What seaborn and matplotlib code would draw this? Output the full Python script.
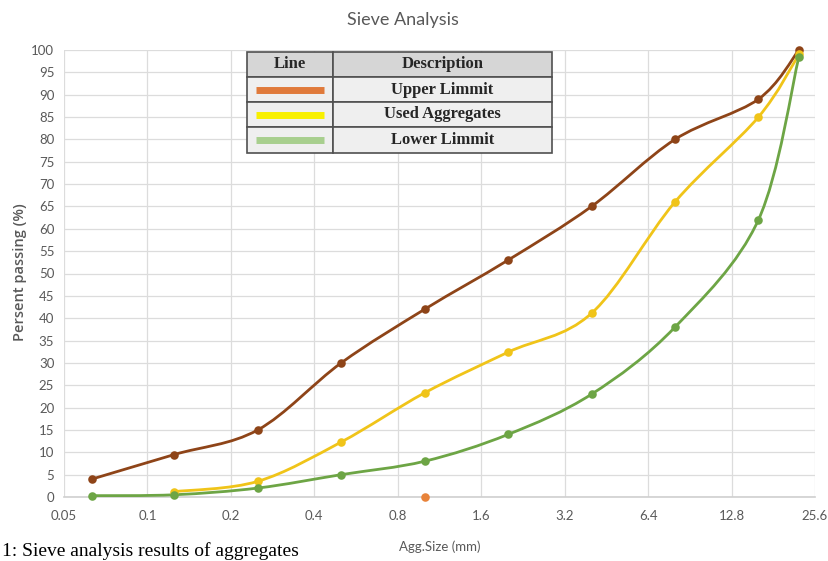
import matplotlib
matplotlib.use('Agg')
import matplotlib.pyplot as plt
import numpy as np
import pandas as pd
import seaborn as sns
from matplotlib.path import Path
from matplotlib.patches import PathPatch, Rectangle

# values
sizes = [0.063, 0.125, 0.25, 0.5, 1.0, 2.0, 4.0, 8.0, 16.0, 22.4]
upper = [4, 9.5, 15, 30, 42, 53, 65, 80, 89, 100]
used_sizes = [0.125, 0.25, 0.5, 1.0, 2.0, 4.0, 8.0, 16.0, 22.4]
used = [1.2, 3.5, 12.3, 23.3, 32.4, 41.1, 66, 85, 99]
lower = [0.3, 0.5, 2, 5, 8, 14, 23, 38, 62, 98.5]
dot_sizes = [1.0]
dot_vals = [0]
x_ticks = ['0.05', '0.1', '0.2', '0.4', '0.8', '1.6', '3.2', '6.4', '12.8', '25.6']
legend_rows = ['Upper Limmit', 'Used Aggregates', 'Lower Limmit']

c_upper = '#8e4418'
c_used = '#f0c419'
c_lower = '#6da545'
c_dot = '#e8833a'
legend_cols = ['#e07a3b', '#f8f000', '#a8cf8e']
grey = '#595959'

sns.set_theme(style='white')


def smooth_line(ax, xs, ys, color):
    # excel-like smoothed line, bezier segments in (log2 x, y) space
    lx = np.log2(xs)
    ys = np.asarray(ys, dtype=float)
    n = len(lx)
    verts = [(xs[0], ys[0])]
    codes = [Path.MOVETO]
    for i in range(n - 1):
        p0 = max(i - 1, 0)
        p3 = min(i + 2, n - 1)
        c1x = lx[i] + (lx[i + 1] - lx[p0]) / 6
        c1y = ys[i] + (ys[i + 1] - ys[p0]) / 6
        c2x = lx[i + 1] - (lx[p3] - lx[i]) / 6
        c2y = ys[i + 1] - (ys[p3] - ys[i]) / 6
        verts += [(2 ** c1x, c1y), (2 ** c2x, c2y), (xs[i + 1], ys[i + 1])]
        codes += [Path.CURVE4] * 3
    ax.add_patch(PathPatch(Path(verts, codes), fill=False, edgecolor=color,
                           lw=2, zorder=3, capstyle='round'))


fig = plt.figure(figsize=(8.29, 5.61), dpi=100)
ax = fig.add_axes([64 / 829, 1 - 497 / 561, 751 / 829, 447 / 561])

ax.set_xscale('log', base=2)
ax.set_xlim(0.05, 25.6)
ax.set_ylim(0, 100)

smooth_line(ax, sizes, upper, c_upper)
smooth_line(ax, used_sizes, used, c_used)
smooth_line(ax, sizes, lower, c_lower)

df_up = pd.DataFrame({'size': sizes, 'pct': upper})
df_used = pd.DataFrame({'size': used_sizes, 'pct': used})
df_low = pd.DataFrame({'size': sizes, 'pct': lower})
df_dot = pd.DataFrame({'size': dot_sizes, 'pct': dot_vals})
for d, c in [(df_up, c_upper), (df_used, c_used), (df_low, c_lower), (df_dot, c_dot)]:
    sns.scatterplot(data=d, x='size', y='pct', color=c, s=38, marker='o',
                    edgecolor=c, linewidth=0, ax=ax, zorder=4, clip_on=False)

ax.set_xticks([0.05 * 2 ** i for i in range(10)])
ax.set_xticklabels(x_ticks)
ax.minorticks_off()
ax.set_yticks(range(0, 101, 5))
ax.tick_params(axis='both', colors=grey, labelsize=9.5, length=0)
ax.tick_params(axis='x', pad=9)
ax.tick_params(axis='y', pad=7)
for lab in ax.get_xticklabels() + ax.get_yticklabels():
    lab.set_family('Lato')

ax.grid(True, color='#dcdcdc', lw=0.9)
for s in ['top', 'right', 'left']:
    ax.spines[s].set_visible(False)
ax.spines['bottom'].set_color('#cfcfcf')
ax.spines['bottom'].set_linewidth(1.2)

ax.set_xlabel('')
ax.set_ylabel('')
fig.text(20 / 829, 1 - 272 / 561, 'Persent passing (%)', color=grey, fontsize=10.5,
         family='Open Sans', fontweight='semibold', rotation=90,
         ha='center', va='center')
fig.text(440 / 829, 1 - 547 / 561, 'Agg.Size (mm)', color=grey, fontsize=9.5,
         family='Lato', ha='center', va='center')
fig.text(403 / 829, 1 - 20 / 561, 'Sieve Analysis', color=grey, fontsize=13,
         family='Lato', ha='center', va='center')
fig.text(2 / 829, 1 - 560 / 561, '1: Sieve analysis results of aggregates',
         color='black', fontsize=14, family='Liberation Serif', ha='left', va='bottom')

# legend drawn as a table
tx0, tx1, tmid = 0.2437, 0.650, (333 - 64) / 751
row_edges = [(497 - y) / 447 for y in [52, 77, 102, 127, 153]]
tf = ax.transAxes
for i in range(4):
    top, bot = row_edges[i], row_edges[i + 1]
    fill = '#d6d6d6' if i == 0 else '#efefef'
    ax.add_patch(Rectangle((tx0, bot), tmid - tx0, top - bot, transform=tf,
                           facecolor=fill, edgecolor='#505050', lw=1.2, zorder=5))
    ax.add_patch(Rectangle((tmid, bot), tx1 - tmid, top - bot, transform=tf,
                           facecolor=fill, edgecolor='#505050', lw=1.2, zorder=5))
    yc = (top + bot) / 2
    if i == 0:
        ax.text((tx0 + tmid) / 2, yc, 'Line', transform=tf, ha='center', va='center',
                fontsize=12, fontweight='bold', family='Liberation Serif', zorder=6)
        ax.text((tmid + tx1) / 2, yc, 'Description', transform=tf, ha='center',
                va='center', fontsize=12, fontweight='bold', family='Liberation Serif',
                zorder=6)
    else:
        ax.plot([tx0 + 0.012, tmid - 0.012], [yc, yc], transform=tf,
                color=legend_cols[i - 1], lw=5, zorder=6, solid_capstyle='butt')
        ax.text((tmid + tx1) / 2, yc, legend_rows[i - 1], transform=tf, ha='center',
                va='center', fontsize=12, fontweight='bold', family='Liberation Serif',
                zorder=6)

fig.savefig('out.png', dpi=100)
